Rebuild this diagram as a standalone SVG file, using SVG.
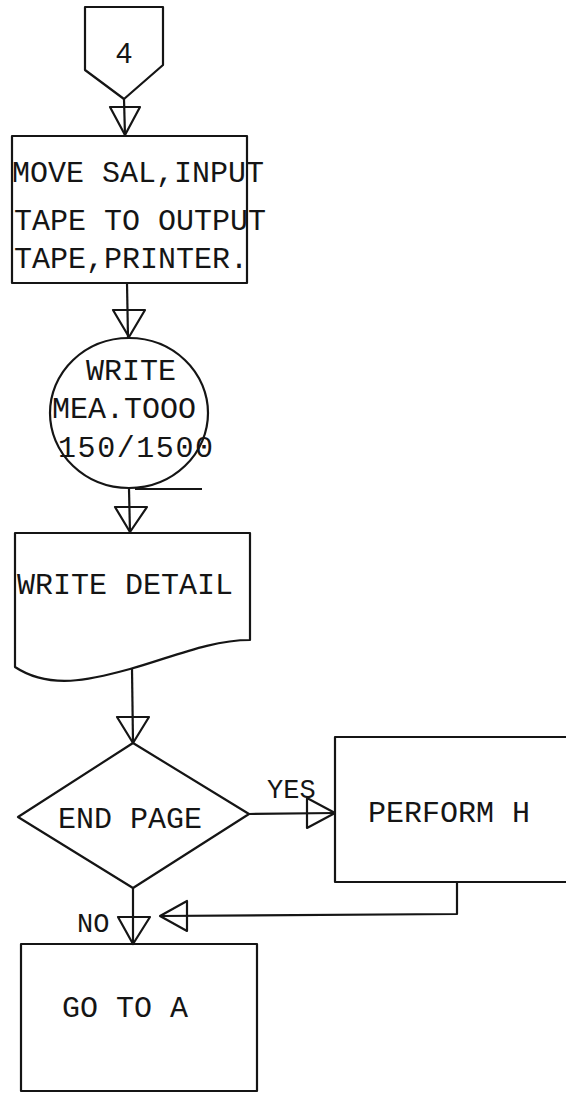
<svg xmlns="http://www.w3.org/2000/svg" width="566" height="1095" viewBox="0 0 566 1095">
<style>
.s{fill:none;stroke:#151515;stroke-width:2.2;stroke-linejoin:round}
.t{font-family:"Liberation Mono","DejaVu Sans Mono",monospace;font-size:30px;fill:#151515}
.l{font-family:"Liberation Mono","DejaVu Sans Mono",monospace;font-size:27px;fill:#151515}
.h{font-family:"Liberation Sans",Arial,sans-serif;font-size:29px;fill:#151515}
</style>
<rect width="566" height="1095" fill="#fff"/>
<g id="connector4">
<path class="s" d="M85,70 L85,7 L163,7 L163,65 L124,99 Z"/>
<text class="h" x="124" y="63" text-anchor="middle">4</text>
</g>
<g id="move">
<rect class="s" x="12" y="136" width="235" height="147"/>
<text class="t" x="12" y="182">MOVE SAL,INPUT</text>
<text class="t" x="14" y="230">TAPE TO OUTPUT</text>
<text class="t" x="14" y="268">TAPE,PRINTER.</text>
</g>
<g id="tape">
<ellipse class="s" cx="129" cy="413" rx="79" ry="75"/>
<line class="s" x1="135" y1="489" x2="202" y2="489"/>
<text class="t" x="86" y="380">WRITE</text>
<text class="t" x="52" y="418">MEA.TOOO</text>
<text class="t" x="58" y="457" textLength="155">150/1500</text>
</g>
<g id="detail">
<path class="s" d="M15,667 L15,533 L250,533 L250,640 C210,640 170,658 130,669 C90,680 50,690 15,667 Z"/>
<text class="t" x="17" y="594">WRITE DETAIL</text>
</g>
<g id="endpage">
<path class="s" d="M133,743 L249,814 L133,888 L18,817 Z"/>
<text class="t" x="58" y="828">END PAGE</text>
</g>
<g id="performh">
<rect class="s" x="335" y="737" width="240" height="145"/>
<text class="t" x="368" y="822">PERFORM H</text>
</g>
<g id="gotoa">
<rect class="s" x="21" y="944" width="236" height="147"/>
<text class="t" x="62" y="1017">GO TO A</text>
</g>
<g id="connectors">
<line class="s" x1="124" y1="99" x2="125" y2="136"/>
<polygon class="s" points="110,107 140,107 125,135"/>
<line class="s" x1="127" y1="283" x2="128" y2="338"/>
<polygon class="s" points="113,310 145,310 129,337"/>
<line class="s" x1="129" y1="489" x2="130" y2="533"/>
<polygon class="s" points="115,507 147,507 130,532"/>
<line class="s" x1="132" y1="669" x2="133" y2="743"/>
<polygon class="s" points="117,717 149,717 133,743"/>
<line class="s" x1="249" y1="814" x2="335" y2="813"/>
<polygon class="s" points="307,798 307,828 335,813"/>
<text class="l" x="267" y="798">YES</text>
<line class="s" x1="133" y1="888" x2="133" y2="944"/>
<polygon class="s" points="118,917 150,917 133,944"/>
<text class="l" x="77" y="932">NO</text>
<polyline class="s" points="457,882 457,914 160,916"/>
<polygon class="s" points="187,901 187,931 160,916"/>
</g>
</svg>
